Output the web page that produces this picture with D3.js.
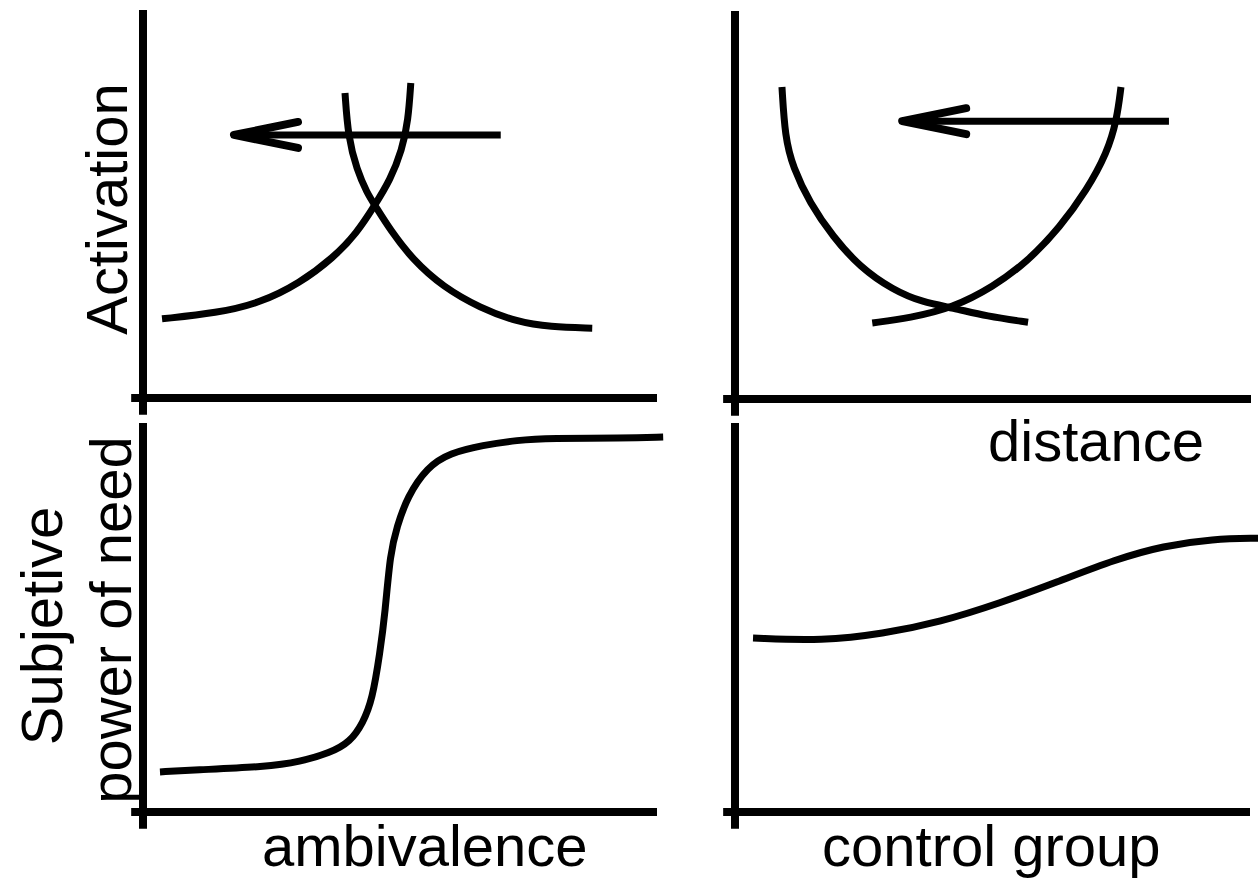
<!DOCTYPE html>
<html><head><meta charset="utf-8">
<script src="https://cdn.jsdelivr.net/npm/d3@7/dist/d3.min.js"></script>
<style>html,body{margin:0;padding:0;background:#fff;}svg{display:block;}</style>
</head><body>
<svg id="chart" width="1258" height="878"></svg>
<script>
// ---- data (arbitrary units 0-100 per panel) ----
const activationRising = [[3.7,20.4],[14.4,21.9],[22.8,24.5],[30.5,29.6],[37.0,36.1],[41.6,42.5],[45.1,49.7],[48.1,56.2],[50.4,63.9],[51.6,71.6],[52.1,81.2]];
const activationFalling = [[39.3,78.6],[39.9,67.3],[41.6,58.8],[43.6,52.8],[45.1,49.7],[48.1,43.3],[52.5,35.6],[58.4,28.6],[65.6,23.2],[72.8,19.6],[79.2,18.3],[87.4,18.0]];
const arrowAmbivalence = [[69.6,67.8],[17.7,67.8]];

const controlFalling = [[9.1,80.4],[9.7,67.5],[11.2,59.8],[14.5,50.5],[19.0,41.8],[24.2,34.0],[30.6,28.1],[36.4,24.9],[42.2,23.5],[48.8,21.3],[56.8,19.8]];
const controlRising = [[26.6,19.6],[33.9,20.9],[42.2,23.5],[50.0,28.9],[56.6,35.3],[63.0,44.3],[68.2,53.9],[72.1,63.4],[74.0,71.9],[74.8,80.4]];
const arrowControl = [[84.1,71.6],[32.4,71.6]];

const needAmbivalence = [[3.3,10.3],[9.7,10.8],[24.1,11.6],[30.5,12.9],[36.4,15.2],[40.3,18.0],[42.8,22.9],[44.6,28.8],[46.1,40.9],[47.1,51.2],[48.1,66.6],[49.4,73.3],[51.4,81.0],[55.3,88.7],[59.7,92.3],[66.1,94.3],[72.8,95.6],[79.2,96.1],[93.4,96.1],[101.2,96.4]];
const needControl = [[3.5,44.7],[17.1,44.0],[28.7,45.8],[39.8,48.8],[51.5,53.7],[62.5,59.1],[74.0,65.0],[83.1,68.4],[92.8,70.2],[101.6,70.4]];

const labels = {
  yTop: "Activation",
  yBottom1: "Subjetive",
  yBottom2: "power of need",
  xLeft: "ambivalence",
  xRight: "control group",
  xTopRight: "distance"
};

// ---- layout ----
const svg = d3.select("#chart");
const FONT = "'Liberation Sans', Arial, Helvetica, sans-serif";

const panels = [
  {x0:143, x1:657, y0:398, y1:10,  curves:[activationRising, activationFalling], arrow:arrowAmbivalence},
  {x0:735, x1:1251, y0:399, y1:11, curves:[controlFalling, controlRising], arrow:arrowControl},
  {x0:143, x1:657, y0:812, y1:423, curves:[needAmbivalence], arrow:null},
  {x0:735, x1:1250, y0:812, y1:423, curves:[needControl], arrow:null}
];

panels.forEach(p => {
  const x = d3.scaleLinear().domain([0,100]).range([p.x0, p.x1]);
  const y = d3.scaleLinear().domain([0,100]).range([p.y0, p.y1]);
  const g = svg.append("g");
  // axes
  g.append("line").attr("x1", x(-2.3)).attr("x2", x(100)).attr("y1", y(0)).attr("y2", y(0))
    .attr("stroke","#000").attr("stroke-width",8);
  g.append("line").attr("x1", x(0)).attr("x2", x(0)).attr("y1", y(-4.3)).attr("y2", y(100))
    .attr("stroke","#000").attr("stroke-width",8);
  const line = d3.line().x(d=>x(d[0])).y(d=>y(d[1])).curve(d3.curveBasis);
  p.curves.forEach(c => {
    g.append("path").attr("d", line(c)).attr("fill","none").attr("stroke","#000")
      .attr("stroke-width",7).attr("stroke-linecap","butt");
  });
  if (p.arrow) {
    const [t, h] = p.arrow;
    const tx = x(t[0]), ty = y(t[1]), hx = x(h[0]), hy = y(h[1]);
    g.append("line").attr("x1",tx).attr("y1",ty).attr("x2",hx).attr("y2",hy)
      .attr("stroke","#000").attr("stroke-width",7).attr("stroke-linecap","butt");
    const hl = 64, hw = 13;
    g.append("path")
      .attr("d", `M${hx+hl},${hy-hw}L${hx},${hy}L${hx+hl},${hy+hw}`)
      .attr("fill","none").attr("stroke","#000").attr("stroke-width",8)
      .attr("stroke-linecap","round").attr("stroke-linejoin","round");
  }
});

// ---- text ----
const txt = (s, x, y, rot, anchor) => svg.append("text")
  .attr("transform", `translate(${x},${y}) rotate(${rot})`)
  .attr("text-anchor", anchor).attr("font-family", FONT).attr("font-size", 58)
  .attr("fill","#000").text(s);

txt(labels.yTop, 127, 209, -90, "middle");
txt(labels.yBottom1, 62, 626, -90, "middle");
txt(labels.yBottom2, 131, 620, -90, "middle");
txt(labels.xLeft, 262, 866, 0, "start");
txt(labels.xRight, 822, 866, 0, "start");
txt(labels.xTopRight, 988, 461, 0, "start");
</script>
</body></html>
